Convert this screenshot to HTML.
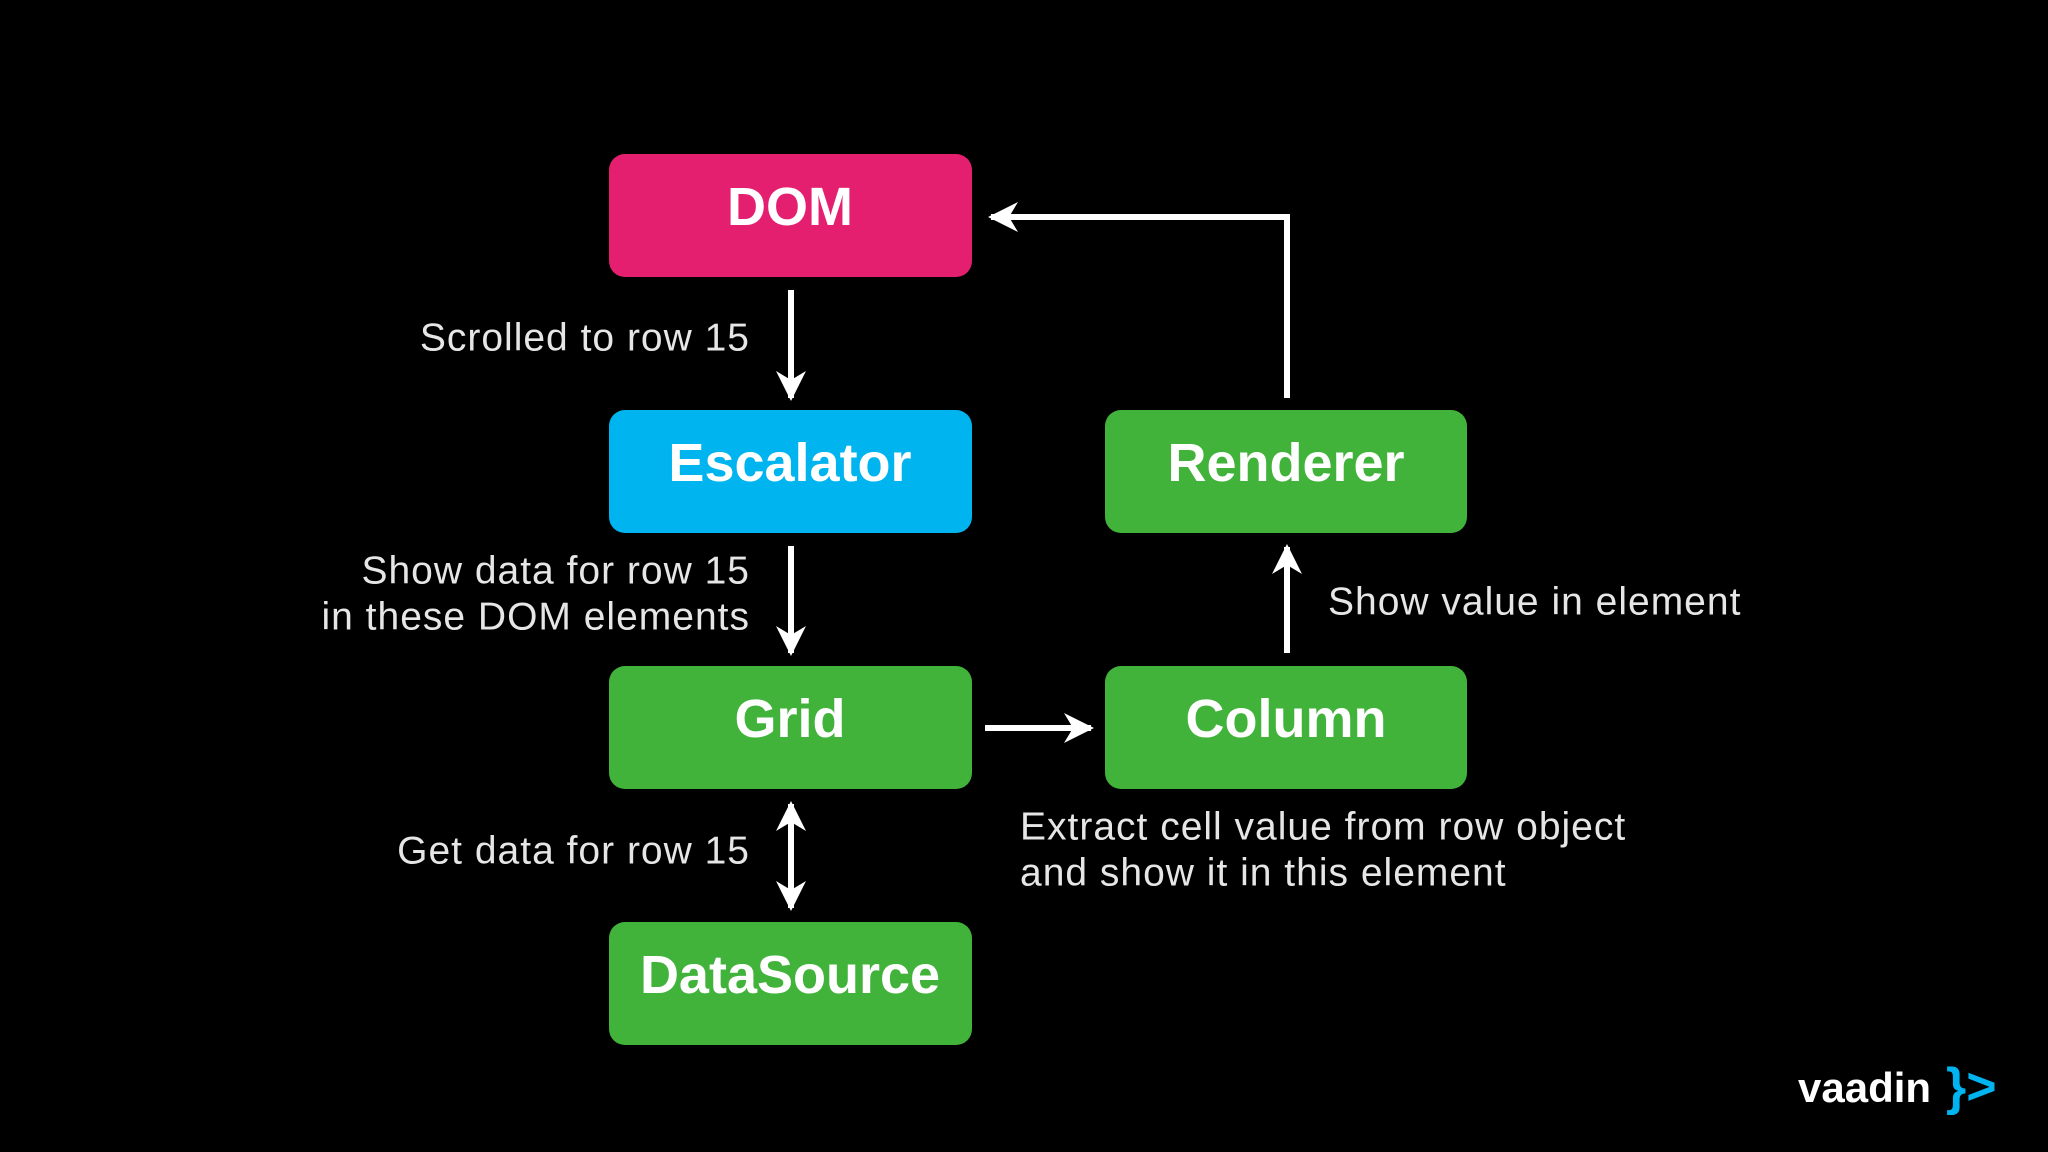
<!DOCTYPE html>
<html><head><meta charset="utf-8"><style>
html,body{margin:0;padding:0;background:#000;}
svg{display:block}
.b{font-family:"Liberation Sans",sans-serif;font-weight:bold;font-size:54px;fill:#fff;text-anchor:middle;dominant-baseline:central}
.l{font-family:"Liberation Sans",sans-serif;font-size:39px;fill:#e6e6e6;dominant-baseline:central;letter-spacing:1px}
</style></head><body>
<svg width="2048" height="1152" viewBox="0 0 2048 1152" xmlns="http://www.w3.org/2000/svg">
<defs>
<marker id="a" viewBox="0 0 10 10" refX="9" refY="5" markerWidth="5" markerHeight="5" orient="auto-start-reverse" markerUnits="strokeWidth">
<path d="M0,0 L10,5 L0,10 L3,5 z" fill="#fff"/></marker>
</defs>
<rect width="2048" height="1152" fill="#000"/>
<rect x="609" y="154" width="363" height="123" rx="16" fill="#e51f6f"/>
<rect x="609" y="410" width="363" height="123" rx="16" fill="#00b4ef"/>
<rect x="609" y="666" width="363" height="123" rx="16" fill="#41b33b"/>
<rect x="609" y="922" width="363" height="123" rx="16" fill="#41b33b"/>
<rect x="1105" y="410" width="362" height="123" rx="16" fill="#41b33b"/>
<rect x="1105" y="666" width="362" height="123" rx="16" fill="#41b33b"/>
<text class="b" x="790" y="207">DOM</text>
<text class="b" x="790" y="463">Escalator</text>
<text class="b" x="790" y="719">Grid</text>
<text class="b" x="790" y="975">DataSource</text>
<text class="b" x="1286" y="463">Renderer</text>
<text class="b" x="1286" y="719">Column</text>
<g stroke="#fff" stroke-width="6" fill="none">
<line x1="791" y1="290" x2="791" y2="398" marker-end="url(#a)"/>
<line x1="791" y1="546" x2="791" y2="653" marker-end="url(#a)"/>
<line x1="791" y1="804" x2="791" y2="908" marker-start="url(#a)" marker-end="url(#a)"/>
<line x1="985" y1="728" x2="1091" y2="728" marker-end="url(#a)"/>
<line x1="1287" y1="653" x2="1287" y2="547" marker-end="url(#a)"/>
<polyline points="1287,398 1287,217 991,217" marker-end="url(#a)"/>
</g>
<text class="l" x="750" y="338" text-anchor="end">Scrolled to row 15</text>
<text class="l" x="750" y="571" text-anchor="end">Show data for row 15</text>
<text class="l" x="750" y="617" text-anchor="end">in these DOM elements</text>
<text class="l" x="750" y="851" text-anchor="end">Get data for row 15</text>
<text class="l" x="1328" y="602">Show value in element</text>
<text class="l" x="1020" y="827">Extract cell value from row object</text>
<text class="l" x="1020" y="873">and show it in this element</text>
<text x="1798" y="1102" font-family="Liberation Sans,sans-serif" font-weight="bold" font-size="42" fill="#fff">vaadin</text>
<text x="1946" y="1104" font-family="Liberation Sans,sans-serif" font-weight="bold" font-size="52" fill="#00b4f0">}&gt;</text>
</svg>
</body></html>
